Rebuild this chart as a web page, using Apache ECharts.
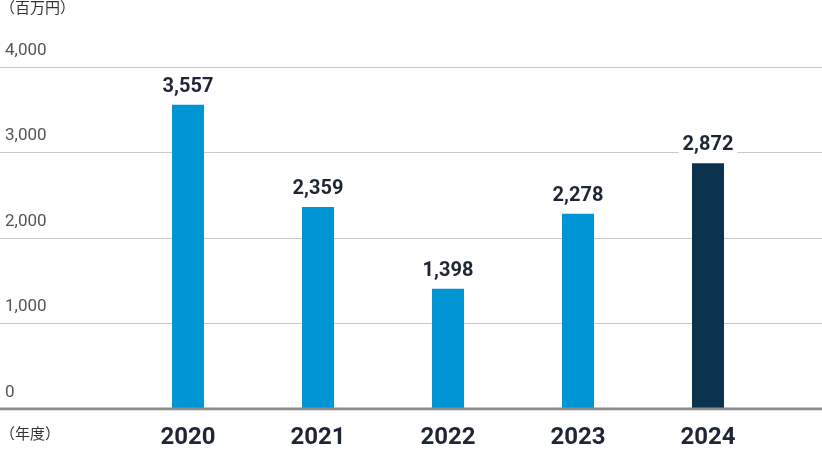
<!DOCTYPE html>
<html lang="ja">
<head>
<meta charset="UTF-8">
<script src="https://cdn.jsdelivr.net/npm/echarts@6/dist/echarts.min.js"></script>
<style>
  html, body { margin: 0; padding: 0; background: #fff; }
  #chart { width: 822px; height: 450px; }
</style>
</head>
<body>
<div id="chart"></div>
<script>
  // 年度ごとの値（百万円）
  const years = ['2020', '2021', '2022', '2023', '2024'];
  const values = [3557, 2359, 1398, 2278, 2872];
  const yTicks = [0, 1000, 2000, 3000, 4000];

  const font = 'Roboto, "Noto Sans CJK JP", sans-serif';
  const chart = echarts.init(document.getElementById('chart'));

  chart.setOption({
    animation: false,
    textStyle: { fontFamily: font },
    graphic: [
      { type: 'text', left: 0, top: 2, style: { text: '（百万円）', fontSize: 15, fill: '#333', fontFamily: font } },
      { type: 'text', left: 0, top: 428, style: { text: '（年度）', fontSize: 15, fill: '#333', fontFamily: font } }
    ],
    grid: [
      { left: 123, right: 49, top: 67, bottom: 41 },
      { left: 0, right: 0, top: 67, bottom: 41 }
    ],
    xAxis: [
      {
        type: 'category', data: years, gridIndex: 0,
        axisLine: { show: false }, axisTick: { show: false },
        axisLabel: { fontSize: 24, fontWeight: 'bold', color: '#1e2535', margin: 18 }
      },
      { type: 'value', gridIndex: 1, show: false, min: 0, max: 1 }
    ],
    yAxis: [
      { type: 'value', gridIndex: 0, min: 0, max: 4000, interval: 1000, show: false },
      {
        type: 'value', gridIndex: 1, min: 0, max: 4000, interval: 1000,
        axisLine: { show: false }, axisTick: { show: false },
        splitLine: { lineStyle: { color: '#c8c8c8', width: 1 } },
        axisLabel: {
          inside: true, margin: 5, fontSize: 17, color: '#555',
          verticalAlign: 'bottom', padding: [0, 0, 8, 0],
          formatter: v => yTicks.includes(v) ? v.toLocaleString('en-US') : ''
        }
      }
    ],
    series: [
      {
        type: 'bar', xAxisIndex: 0, yAxisIndex: 0, barWidth: 32, z: 3,
        data: values.map((v, i) => ({
          value: v,
          itemStyle: { color: i === values.length - 1 ? '#0b3350' : '#0095d5' }
        })),
        label: {
          show: true, position: 'top', distance: 6,
          fontSize: 20, fontWeight: 'bold', color: '#1e2535',
          backgroundColor: '#fff', padding: [2, 4],
          formatter: p => p.value.toLocaleString('en-US')
        }
      },
      {
        // 下の軸線
        type: 'line', xAxisIndex: 1, yAxisIndex: 1, symbol: 'none', z: 4,
        data: [[0, 0], [1, 0]],
        lineStyle: { color: '#8c8c8c', width: 3 }
      }
    ]
  });
</script>
</body>
</html>
